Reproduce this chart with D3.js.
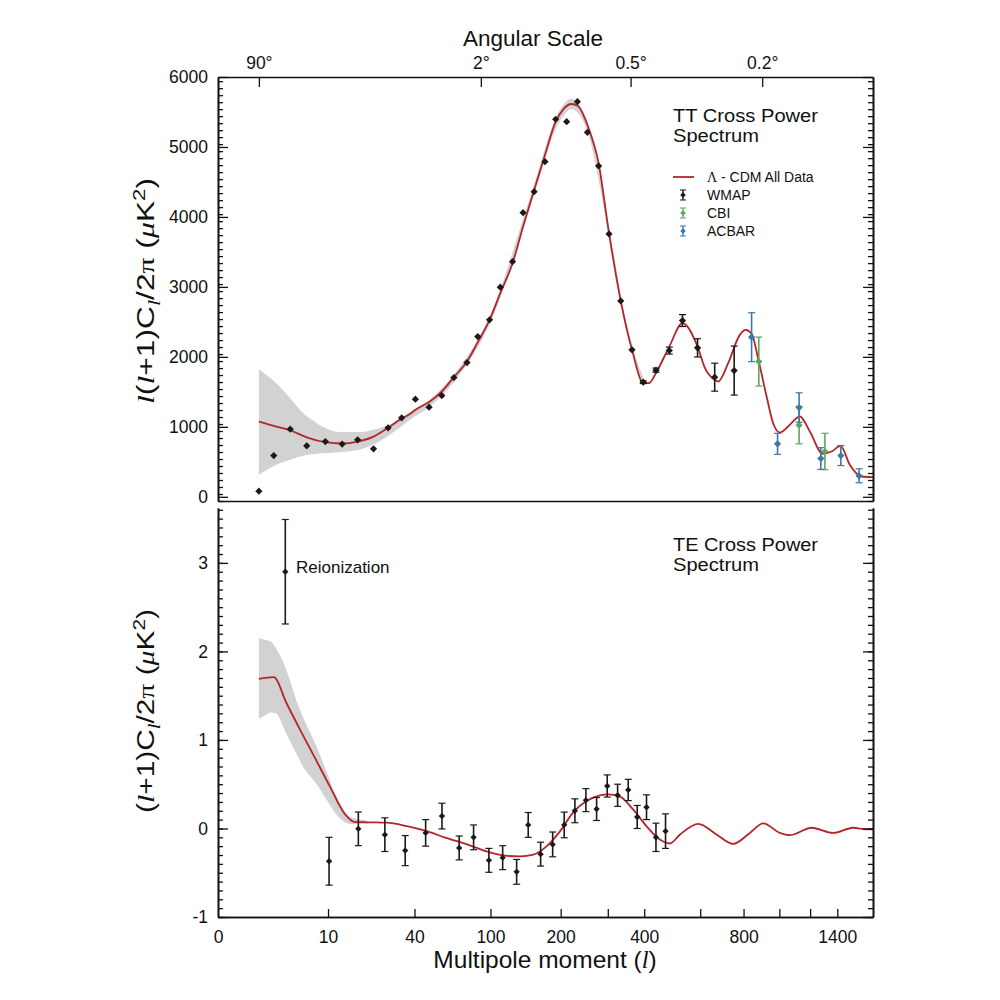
<!DOCTYPE html>
<html>
<head>
<meta charset="utf-8">
<script src="https://cdn.jsdelivr.net/npm/d3@7"></script>
<style>
  body { margin: 0; background: #fff; }
  svg text { font-family: "Liberation Sans", Arial, Helvetica, sans-serif; fill: #111; }
</style>
</head>
<body>
<svg id="chart" width="1000" height="1000"></svg>
<script>
// ---- data ----
// bottom axis ticks (multipole l); the left edge is labelled "0"
const lTicks = [0.5, 10, 40, 100, 200, 400, 800, 1400];
const lTickLabels = ["0", "10", "40", "100", "200", "400", "800", "1400"];
const lMinorTicks = [300, 600, 1000, 1200];
// top axis: angular scale ~ 180 / l
const angleTicks = [2, 90, 360, 900];
const angleLabels = ["90°", "2°", "0.5°", "0.2°"];

const ttTicks = [0, 1000, 2000, 3000, 4000, 5000, 6000];
const teTicks = [-1, 0, 1, 2, 3];

// Lambda-CDM model, TT
const ttModelL = [2, 3.2, 4.5, 6.5, 9.5, 13, 17, 22, 27, 33, 38, 41, 49, 57, 66, 77, 87, 99, 111, 126, 140, 156, 173, 191, 205, 220, 233, 253, 278, 303, 333, 364, 397, 415, 437, 482, 530, 589, 620, 662, 678, 724, 781, 811, 842, 881, 925, 963, 1003, 1054, 1130, 1198, 1290, 1356, 1426, 1500, 1600, 1700];
const ttModelV = [1076, 1004, 950, 850, 780, 762, 790, 861, 975, 1110, 1190, 1250, 1362, 1505, 1710, 1933, 2210, 2529, 2910, 3338, 3861, 4386, 4886, 5361, 5540, 5614, 5586, 5314, 4767, 3767, 2800, 2100, 1630, 1625, 1770, 2147, 2481, 2147, 1839, 1671, 1647, 1910, 2314, 2386, 2330, 1933, 1433, 1052, 919, 1005, 1148, 933, 615, 647, 729, 457, 290, 281];
// cosmic variance band, TT
const ttBandL = [2, 3.2, 4.5, 6, 8, 10, 13, 18, 23, 30, 38, 50, 70, 100, 150, 200, 220, 250, 300, 350, 400];
const ttBandLo = [314, 457, 530, 585, 615, 625, 640, 680, 770, 930, 1110, 1310, 1730, 2490, 4140, 5390, 5540, 5280, 3830, 2350, 1590];
const ttBandHi = [1824, 1624, 1410, 1196, 1053, 967, 925, 925, 970, 1060, 1220, 1410, 1840, 2600, 4280, 5550, 5690, 5420, 3950, 2450, 1670];

// WMAP TT points
const wmapTTL = [2, 3, 4.5, 6.5, 9.5, 13, 17, 22, 27.5, 33.5, 40.5, 48.5, 57, 66, 77, 87, 99, 111, 126, 140, 156, 173, 191, 211, 232, 253, 278, 303, 333, 364, 397, 437, 482, 530, 589, 662, 753];
const wmapTTV = [80, 590, 967, 729, 790, 753, 814, 686, 986, 1129, 1396, 1281, 1447, 1704, 1919, 2290, 2529, 2996, 3361, 4061, 4361, 4790, 5396, 5361, 5647, 5210, 4729, 3757, 2800, 2100, 1639, 1810, 2090, 2519, 2129, 1710, 1804];
const wmapTTErr = [0, 0, 0, 0, 0, 0, 0, 0, 0, 0, 0, 0, 0, 0, 0, 0, 0, 0, 0, 0, 0, 0, 0, 0, 0, 0, 0, 0, 0, 0, 20, 30, 50, 85, 130, 200, 350];
// CBI points
const cbiL = [881, 1125, 1306];
const cbiV = [1933, 1024, 647];
const cbiErr = [350, 267, 260];
// ACBAR points
const acbarL = [842, 989, 1125, 1276, 1428, 1578];
const acbarV = [2281, 757, 1276, 547, 590, 300];
const acbarErr = [350, 150, 210, 155, 143, 100];

// Lambda-CDM model, TE
const teModelL = [2, 3, 4.1, 5.6, 7.7, 10.4, 13.7, 16, 20, 27, 36, 47, 60, 77, 96, 119, 136, 155, 176, 199, 224, 251, 281, 301, 331, 367, 407, 450, 484, 520, 592, 670, 748, 833, 906, 1003, 1065, 1210, 1368, 1528, 1642, 1700];
const teModelV = [1.69, 1.71, 1.42, 1.12, 0.8, 0.47, 0.16, 0.075, 0.07, 0.065, 0.026, -0.03, -0.106, -0.18, -0.26, -0.31, -0.315, -0.295, -0.2, -0.03, 0.185, 0.31, 0.375, 0.386, 0.36, 0.216, 0.026, -0.125, -0.17, -0.07, 0.053, -0.068, -0.174, -0.05, 0.057, -0.05, -0.076, 0.008, -0.05, 0.008, -0.01, -0.01];
const teBandL = [2, 2.4, 2.8, 3.2, 3.8, 4.5, 5.2, 6, 8, 10, 12, 15, 20];
const teBandLo = [1.24, 1.28, 1.31, 1.3, 1.15, 0.98, 0.84, 0.7, 0.5, 0.3, 0.14, 0.05, 0.05];
const teBandHi = [2.15, 2.13, 2.11, 2.03, 1.88, 1.66, 1.44, 1.26, 0.92, 0.6, 0.32, 0.13, 0.09];

// WMAP TE points
const wmapTEL = [4, 10.2, 17.2, 26.2, 35.2, 46.4, 57.1, 70.3, 83, 98.3, 113.8, 131.3, 147.3, 166, 185.8, 206.4, 227, 249.7, 273.4, 298.6, 324.8, 353.4, 379, 407, 437, 469];
const wmapTEV = [2.9, -0.37, -0.004, -0.07, -0.25, -0.05, 0.14, -0.22, -0.1, -0.36, -0.33, -0.49, 0.04, -0.29, -0.18, 0.04, 0.2, 0.32, 0.22, 0.48, 0.375, 0.435, 0.13, 0.24, -0.1, -0.03];
const wmapTEErr = [0.59, 0.27, 0.19, 0.19, 0.17, 0.15, 0.145, 0.135, 0.14, 0.135, 0.135, 0.14, 0.14, 0.135, 0.14, 0.145, 0.135, 0.13, 0.13, 0.125, 0.125, 0.12, 0.13, 0.14, 0.16, 0.195];

// ---- layout ----
const left = 218, right = 873;
const ttTop = 77, ttBottom = 501;
const teTop = 508, teBottom = 917;
const red = "#b3262c", cbiColor = "#5fa55f", acbarColor = "#3b78a8", bandColor = "#d2d2d2";

const svg = d3.select("#chart");

// pow(1/4) spacing matches the reference's tick positions
const x = d3.scalePow().exponent(0.25).domain([0.5, 1700]).range([left, right]);
const yTT = d3.scaleLinear().domain([-60, 6000]).range([ttBottom, ttTop]);
const yTE = d3.scaleLinear().domain([-1, 3.62]).range([teBottom, teTop]);

const zip = (a, b) => a.map((d, i) => [d, b[i]]);

// clip regions
const defs = svg.append("defs");
defs.append("clipPath").attr("id", "clipTT").append("rect")
    .attr("x", left).attr("y", ttTop).attr("width", right - left).attr("height", ttBottom - ttTop);
defs.append("clipPath").attr("id", "clipTE").append("rect")
    .attr("x", left).attr("y", teTop).attr("width", right - left).attr("height", teBottom - teTop);

// ---------- TT panel ----------
const gTT = svg.append("g").attr("clip-path", "url(#clipTT)");

gTT.append("path")
    .datum(ttBandL.map((l, i) => ({ l, lo: ttBandLo[i], hi: ttBandHi[i] })))
    .attr("fill", bandColor)
    .attr("d", d3.area().x(d => x(d.l)).y0(d => yTT(d.lo)).y1(d => yTT(d.hi)).curve(d3.curveMonotoneX));

gTT.append("path")
    .datum(zip(ttModelL, ttModelV))
    .attr("fill", "none").attr("stroke", red).attr("stroke-width", 1.8)
    .attr("d", d3.line().x(d => x(d[0])).y(d => yTT(d[1])).curve(d3.curveMonotoneX));

function drawPoints(g, y, L, V, E, color, size) {
  const pts = L.map((l, i) => ({ l, v: V[i], e: E[i] }));
  const bars = pts.filter(d => d.e > 0);
  g.selectAll(null).data(bars).join("line")
      .attr("x1", d => x(d.l)).attr("x2", d => x(d.l))
      .attr("y1", d => y(d.v - d.e)).attr("y2", d => y(d.v + d.e))
      .attr("stroke", color).attr("stroke-width", 1.6);
  [-1, 1].forEach(s => {
    g.selectAll(null).data(bars).join("line")
        .attr("x1", d => x(d.l) - 3.5).attr("x2", d => x(d.l) + 3.5)
        .attr("y1", d => y(d.v + s * d.e)).attr("y2", d => y(d.v + s * d.e))
        .attr("stroke", color).attr("stroke-width", 1.2);
  });
  g.selectAll(null).data(pts).join("path")
      .attr("d", d3.symbol(d3.symbolSquare, size))
      .attr("transform", d => `translate(${x(d.l)},${y(d.v)}) rotate(45)`)
      .attr("fill", color);
}

drawPoints(gTT, yTT, wmapTTL, wmapTTV, wmapTTErr, "#1a1a1a", 26);
drawPoints(gTT, yTT, cbiL, cbiV, cbiErr, cbiColor, 26);
drawPoints(gTT, yTT, acbarL, acbarV, acbarErr, acbarColor, 26);

// ---------- TE panel ----------
const gTE = svg.append("g").attr("clip-path", "url(#clipTE)");

gTE.append("path")
    .datum(teBandL.map((l, i) => ({ l, lo: teBandLo[i], hi: teBandHi[i] })))
    .attr("fill", bandColor)
    .attr("d", d3.area().x(d => x(d.l)).y0(d => yTE(d.lo)).y1(d => yTE(d.hi)).curve(d3.curveMonotoneX));

gTE.append("path")
    .datum(zip(teModelL, teModelV))
    .attr("fill", "none").attr("stroke", red).attr("stroke-width", 1.8)
    .attr("d", d3.line().x(d => x(d[0])).y(d => yTE(d[1])).curve(d3.curveMonotoneX));

drawPoints(gTE, yTE, wmapTEL, wmapTEV, wmapTEErr, "#1a1a1a", 20);

// ---------- axes ----------
const tickFont = 17.5;
function styleAxis(g) {
  g.selectAll("path.domain").attr("stroke", "#111").attr("stroke-width", 1.6);
  g.selectAll(".tick line").attr("stroke", "#111").attr("stroke-width", 1.3);
  g.selectAll(".tick text").attr("font-size", tickFont).attr("fill", "#111");
}

function yAxes(y, major, minorStep) {
  const minor = d3.range(y.domain()[0], y.domain()[1] + 1e-9, minorStep)
      .map(v => Math.round(v * 1000) / 1000);
  svg.append("g").attr("transform", `translate(${left},0)`)
      .call(d3.axisLeft(y).tickValues(minor).tickSizeInner(-5).tickSizeOuter(0).tickFormat(""))
      .call(styleAxis);
  svg.append("g").attr("transform", `translate(${left},0)`)
      .call(d3.axisLeft(y).tickValues(major).tickSizeInner(-10).tickSizeOuter(0).tickPadding(10)
        .tickFormat(d => String(d)))
      .call(styleAxis);
  svg.append("g").attr("transform", `translate(${right},0)`)
      .call(d3.axisRight(y).tickValues(minor).tickSizeInner(-5).tickSizeOuter(0).tickFormat(""))
      .call(styleAxis);
  svg.append("g").attr("transform", `translate(${right},0)`)
      .call(d3.axisRight(y).tickValues(major).tickSizeInner(-10).tickSizeOuter(0).tickFormat(""))
      .call(styleAxis);
}

yAxes(yTT, ttTicks, 100);
yAxes(yTE, teTicks, 0.1);

// top axis: angular scale
svg.append("g").attr("transform", `translate(0,${ttTop})`)
    .call(d3.axisTop(x).tickValues(angleTicks).tickSizeInner(-10).tickSizeOuter(0).tickPadding(8)
      .tickFormat((d, i) => angleLabels[i]))
    .call(styleAxis);

// bottom of TT panel: plain frame line
svg.append("g").attr("transform", `translate(0,${ttBottom})`)
    .call(d3.axisBottom(x).tickValues([]).tickSizeOuter(0))
    .call(styleAxis);

// bottom axis: multipole moment
svg.append("g").attr("transform", `translate(0,${teBottom})`)
    .call(d3.axisBottom(x).tickValues(lMinorTicks).tickSizeInner(-8).tickSizeOuter(0).tickFormat(""))
    .call(styleAxis);
svg.append("g").attr("transform", `translate(0,${teBottom})`)
    .call(d3.axisBottom(x).tickValues(lTicks).tickSizeInner(-8).tickSizeOuter(0).tickPadding(14)
      .tickFormat((d, i) => lTickLabels[i]))
    .call(styleAxis)
    .call(g => g.selectAll(".tick line").filter(d => d === 0.5).remove());

// ---------- labels ----------
function richText(sel, parts, size) {
  parts.forEach(p => {
    const t = sel.append("tspan").text(p.t);
    if (p.it) t.attr("font-style", "italic").attr("font-family", "Liberation Serif, Times New Roman, serif");
    if (p.serif) t.attr("font-family", "Liberation Serif, Times New Roman, serif");
    if (p.sub) t.attr("font-size", size * 0.7).attr("dy", size * 0.25);
    if (p.sup) t.attr("font-size", size * 0.7).attr("dy", -size * 0.4);
    if (p.back) t.attr("dy", p.back);
  });
}

svg.append("text").attr("x", 533).attr("y", 46).attr("text-anchor", "middle")
    .attr("font-size", 22.5).text("Angular Scale");

svg.append("text").attr("x", 545).attr("y", 968).attr("text-anchor", "middle")
    .attr("font-size", 24.5)
    .call(t => richText(t, [{ t: "Multipole moment (" }, { t: "l", it: true }, { t: ")" }], 24.5));

// the reference's axis titles run wider than Liberation Sans, so stretch to its length
const labSize = 23;
const ttLabel = svg.append("text")
    .attr("transform", "translate(154,291) rotate(-90)")
    .attr("text-anchor", "middle").attr("font-size", labSize)
    .attr("textLength", 226).attr("lengthAdjust", "spacingAndGlyphs");
richText(ttLabel, [
  { t: "l", it: true }, { t: "(" }, { t: "l", it: true }, { t: "+1)C" },
  { t: "l", it: true, sub: true }, { t: "/2", back: -labSize * 0.25 }, { t: "π", serif: true }, { t: " (" },
  { t: "μ", it: true }, { t: "K" }, { t: "2", sup: true }, { t: ")", back: labSize * 0.4 }
], labSize);

const teLabel = svg.append("text")
    .attr("transform", "translate(154,711) rotate(-90)")
    .attr("text-anchor", "middle").attr("font-size", labSize)
    .attr("textLength", 204).attr("lengthAdjust", "spacingAndGlyphs");
richText(teLabel, [
  { t: "(" }, { t: "l", it: true }, { t: "+1)C" },
  { t: "l", it: true, sub: true }, { t: "/2", back: -labSize * 0.25 }, { t: "π", serif: true }, { t: " (" },
  { t: "μ", it: true }, { t: "K" }, { t: "2", sup: true }, { t: ")", back: labSize * 0.4 }
], labSize);

// panel titles
const titleLines = [["TT Cross Power", 122, 145], ["Spectrum", 142, 86],
                    ["TE Cross Power", 551, 145], ["Spectrum", 571, 86]];
titleLines.forEach(([s, yy, w]) =>
  svg.append("text").attr("x", 673).attr("y", yy).attr("font-size", 17.5)
      .attr("textLength", w).attr("lengthAdjust", "spacingAndGlyphs").text(s));

svg.append("text").attr("x", 296).attr("y", 573).attr("font-size", 17).text("Reionization");

// legend
const legend = svg.append("g").attr("transform", "translate(673,177)");
legend.append("line").attr("x1", 0).attr("x2", 21).attr("y1", 0).attr("y2", 0)
    .attr("stroke", red).attr("stroke-width", 1.8);
legend.append("text").attr("x", 34).attr("y", 5).attr("font-size", 14)
    .call(t => richText(t, [{ t: "Λ", serif: true }, { t: " - CDM All Data" }], 14));
[["WMAP", "#1a1a1a", 18], ["CBI", cbiColor, 36], ["ACBAR", acbarColor, 54]].forEach(([name, c, dy]) => {
  const g = legend.append("g").attr("transform", `translate(10,${dy})`);
  g.append("line").attr("y1", -5).attr("y2", 5).attr("stroke", c).attr("stroke-width", 1.4);
  g.append("line").attr("x1", -3).attr("x2", 3).attr("y1", -5).attr("y2", -5).attr("stroke", c);
  g.append("line").attr("x1", -3).attr("x2", 3).attr("y1", 5).attr("y2", 5).attr("stroke", c);
  g.append("path").attr("d", d3.symbol(d3.symbolSquare, 16)).attr("transform", "rotate(45)").attr("fill", c);
  legend.append("text").attr("x", 34).attr("y", dy + 5).attr("font-size", 14).text(name);
});
</script>
</body>
</html>
